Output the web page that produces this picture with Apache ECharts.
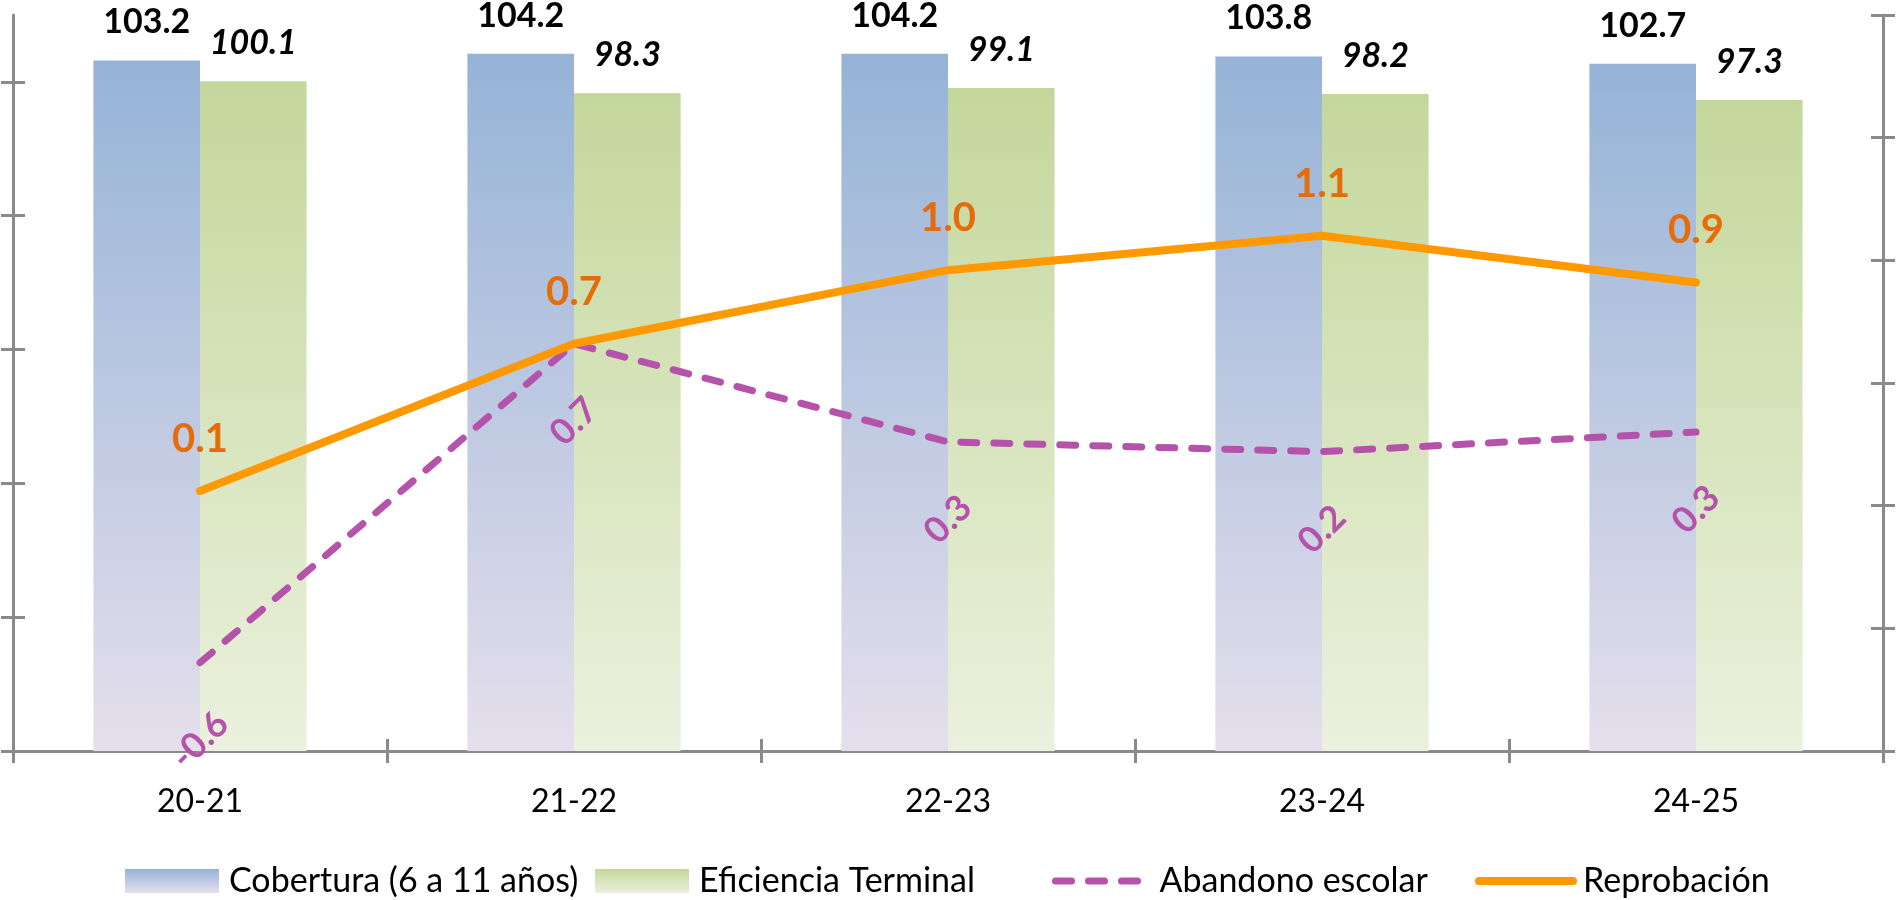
<!DOCTYPE html>
<html><head><meta charset="utf-8">
<script src="https://cdn.jsdelivr.net/npm/echarts@6/dist/echarts.min.js"></script>
<style>html,body{margin:0;padding:0;background:#fff}#c{width:1896px;height:900px}</style>
</head><body><div id="c"></div>
<script>
const categories = ['20-21', '21-22', '22-23', '23-24', '24-25'];
const cobertura = [103.2, 104.2, 104.2, 103.8, 102.7];
const eficiencia = [100.1, 98.3, 99.1, 98.2, 97.3];
const abandono = [-0.64, 0.66, 0.26, 0.22, 0.30];
const reprobacion = [0.06, 0.66, 0.96, 1.10, 0.91];
const leftTicks = [0, 20, 40, 60, 80, 100];
const rightTicks = [-1, -0.5, 0, 0.5, 1, 1.5, 2];
const seriesNames = ['Cobertura (6 a 11 años)', 'Eficiencia Terminal', 'Abandono escolar', 'Reprobación'];

const FONT = 'Lato';
const AX = '#8a8a8a';
const PURPLE = '#b553ab';
const ORANGE = '#ff9900';
const chart = echarts.init(document.getElementById('c'), null, {renderer: 'canvas'});
const grad = (a, b) => new echarts.graphic.LinearGradient(0, 0, 0, 1, [{offset: 0, color: a}, {offset: 1, color: b}]);
const fmt1 = p => p.value.toFixed(1);

const legendBase = {
  itemWidth: 94, itemHeight: 24, itemGap: 0, top: 864, padding: 0,
  textStyle: {fontFamily: FONT, fontSize: 34, color: '#000', padding: [0, 0, 0, 5]}
};

const yBase = (min, max, interval, ticks) => ({
  type: 'value', min, max, interval,
  splitLine: {show: false},
  axisLabel: {show: false},
  axisLine: {show: false, lineStyle: {color: AX, width: 3}},
  axisTick: {show: true, length: 12, customValues: ticks, lineStyle: {color: AX, width: 3}}
});

const option = {
  animation: false,
  backgroundColor: '#fff',
  grid: {left: 13, right: 13, top: 15, bottom: 149, containLabel: false},
  legend: [
    Object.assign({}, legendBase, {left: 125, data: [{name: seriesNames[0], icon: 'rect'}]}),
    Object.assign({}, legendBase, {left: 595, data: [{name: seriesNames[1], icon: 'rect'}]}),
    Object.assign({}, legendBase, {left: 1052, data: [{name: seriesNames[2], itemStyle: {opacity: 0},
      lineStyle: {color: PURPLE, width: 7, type: [16, 17], cap: 'round'}}]}),
    Object.assign({}, legendBase, {left: 1475, data: [{name: seriesNames[3], itemStyle: {opacity: 0},
      lineStyle: {color: ORANGE, width: 8, cap: 'round'}}]})
  ],
  xAxis: [
    {
      type: 'category', data: categories, position: 'bottom', boundaryGap: true,
      axisLine: {show: true, onZero: false, lineStyle: {color: AX, width: 3}},
      axisTick: {show: true, length: 12, lineStyle: {color: AX, width: 3}},
      axisLabel: {fontFamily: FONT, fontSize: 32, color: '#000', margin: 35}
    },
    {
      type: 'category', data: categories, position: 'bottom', boundaryGap: true,
      axisLine: {show: false, onZero: false},
      axisTick: {show: true, inside: true, length: 12, lineStyle: {color: AX, width: 3}},
      axisLabel: {show: false}
    }
  ],
  yAxis: [
    Object.assign(yBase(0, 110, 20, leftTicks), {position: 'left', axisLine: {show: true, onZero: false, lineStyle: {color: AX, width: 3}}}),
    Object.assign(yBase(-1, 2, 0.5, rightTicks), {position: 'right', axisLine: {show: true, onZero: false, lineStyle: {color: AX, width: 3}}}),
    Object.assign(yBase(0, 110, 20, leftTicks), {position: 'left', axisTick: {show: true, inside: true, length: 12, customValues: leftTicks, lineStyle: {color: AX, width: 3}}}),
    Object.assign(yBase(-1, 2, 0.5, rightTicks), {position: 'right', axisTick: {show: true, inside: true, length: 12, customValues: rightTicks, lineStyle: {color: AX, width: 3}}})
  ],
  series: [
    {
      name: seriesNames[0], type: 'bar', data: cobertura, xAxisIndex: 0, yAxisIndex: 0,
      barGap: '0%', barCategoryGap: '43%',
      itemStyle: {color: grad('#95b3d7', '#e5dfec')},
      label: {show: true, position: 'top', distance: 21, formatter: fmt1,
        fontFamily: FONT, fontSize: 34, fontWeight: 'bold', color: '#000'}
    },
    {
      name: seriesNames[1], type: 'bar', data: eficiencia, xAxisIndex: 0, yAxisIndex: 0,
      barGap: '0%', barCategoryGap: '43%',
      itemStyle: {color: grad('#c4d79b', '#ebf1de')},
      label: {show: true, position: 'top', distance: 21, formatter: fmt1,
        fontFamily: FONT, fontSize: 34, fontWeight: 'bold', fontStyle: 'italic', color: '#000'}
    },
    {
      name: seriesNames[2], type: 'line', data: abandono, xAxisIndex: 0, yAxisIndex: 1,
      symbol: 'circle', symbolSize: 1, showSymbol: true,
      itemStyle: {color: PURPLE},
      lineStyle: {color: PURPLE, width: 7, type: [16, 17], cap: 'round'},
      label: {show: true, position: 'inside', offset: [-55, 55], rotate: 45, formatter: fmt1,
        fontFamily: FONT, fontSize: 36, fontWeight: 'bold', color: PURPLE},
      z: 3
    },
    {
      name: seriesNames[3], type: 'line', data: reprobacion, xAxisIndex: 0, yAxisIndex: 1,
      symbol: 'circle', symbolSize: 1, showSymbol: true,
      itemStyle: {color: ORANGE},
      lineStyle: {color: ORANGE, width: 8, cap: 'round', join: 'round'},
      label: {show: true, position: 'inside', offset: [0, -52], formatter: fmt1,
        fontFamily: FONT, fontSize: 40, fontWeight: 'bold', color: '#e46c0a'},
      z: 4
    }
  ]
};
chart.setOption(option);
</script></body></html>
